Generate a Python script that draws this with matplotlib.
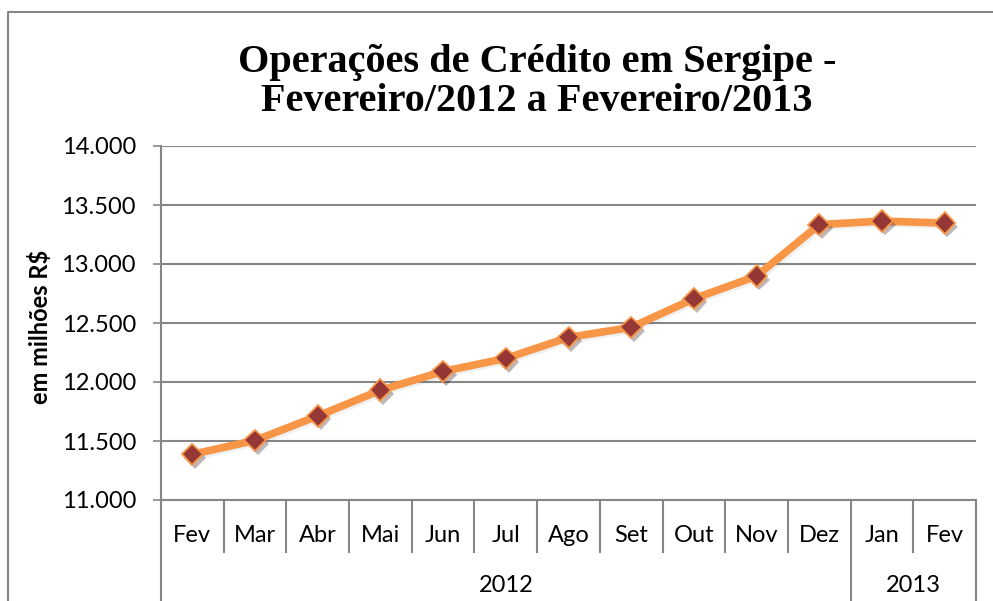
import numpy as np
import matplotlib
matplotlib.use("Agg")
import matplotlib.pyplot as plt
import matplotlib.patheffects as pe
from matplotlib.lines import Line2D
from matplotlib.ticker import FuncFormatter

# =========================
# Data
# =========================
months = ["Fev", "Mar", "Abr", "Mai", "Jun", "Jul", "Ago", "Set", "Out", "Nov", "Dez", "Jan", "Fev"]
years = ["2012", "2013"]
months_per_year = [11, 2]
credito = [11387, 11505, 11712, 11930, 12090, 12200, 12378, 12463, 12706, 12898, 13334, 13364, 13347]

y_ticks = [11000, 11500, 12000, 12500, 13000, 13500, 14000]

TITLE = "Operações de Crédito em Sergipe -\nFevereiro/2012 a Fevereiro/2013"
YLABEL = "em milhões R$"

# =========================
# Style
# =========================
LINE_COLOR = "#F79646"
MARKER_COLOR = "#953735"
GRID_COLOR = "#868686"
TEXT_FONT = ["Lato", "DejaVu Sans"]

W, H = 993, 601
fig = plt.figure(figsize=(W / 100, H / 100), dpi=100)

# plot area in pixels: x 161..976, y 146..500
left, right, top, bottom = 161, 976, 146, 500
ax = fig.add_axes([left / W, 1 - bottom / H, (right - left) / W, (bottom - top) / H])

x = np.arange(len(months)) + 0.5
ax.plot(x, credito, color=LINE_COLOR, lw=5.5, solid_capstyle="round", zorder=3,
        path_effects=[pe.SimpleLineShadow(offset=(1.5, -1.5), alpha=0.06), pe.Normal()])
ax.plot(x, credito, ls="none", marker="D", ms=11, mfc=MARKER_COLOR, mec=LINE_COLOR, mew=1.3,
        zorder=4, path_effects=[pe.SimplePatchShadow(offset=(2, -2.5), alpha=0.3), pe.Normal()])

ax.set_xlim(0, len(months))
ax.set_ylim(y_ticks[0], y_ticks[-1])
ax.set_yticks(y_ticks)
ax.yaxis.set_major_formatter(FuncFormatter(lambda v, p: f"{v:,.0f}".replace(",", ".")))
ax.set_xticks([])

ax.grid(axis="y", color=GRID_COLOR, lw=1.5)
ax.set_axisbelow(True)
for s in ["top", "right"]:
    ax.spines[s].set_visible(False)
ax.spines["left"].set_color(GRID_COLOR)
ax.spines["left"].set_linewidth(1.5)
ax.spines["bottom"].set_color(GRID_COLOR)
ax.spines["bottom"].set_linewidth(1.5)
ax.tick_params(axis="y", length=6, width=1.2, color=GRID_COLOR, pad=12,
               labelsize=17, labelcolor="black")
for lbl in ax.get_yticklabels():
    lbl.set_family(TEXT_FONT)

# =========================
# Two-level category axis
# =========================
ax_h = bottom - top
month_sep = -52 / ax_h
year_sep = -(H - bottom) / ax_h
trans = ax.get_xaxis_transform()

for i, m in enumerate(months):
    ax.text(i + 0.5, -35 / ax_h, m, transform=trans, ha="center", va="center",
            fontsize=17, family=TEXT_FONT)

year_edges = np.concatenate([[0], np.cumsum(months_per_year)])
for i in range(1, len(months)):
    if i in year_edges:
        continue
    ax.plot([i, i], [0, month_sep], transform=trans, color=GRID_COLOR, lw=1.5, clip_on=False)
for e in year_edges:
    ax.plot([e, e], [0, year_sep], transform=trans, color=GRID_COLOR, lw=1.5, clip_on=False)
for k, yr in enumerate(years):
    cx = (year_edges[k] + year_edges[k + 1]) / 2
    ax.text(cx, -85 / ax_h, yr, transform=trans, ha="center", va="center",
            fontsize=17, family=TEXT_FONT)

# =========================
# Titles and frame
# =========================
fig.text(537 / W, 1 - 82 / H, TITLE, ha="center", va="center", fontsize=29,
         fontweight="bold", family="Liberation Serif", linespacing=1.08)
fig.text(40 / W, 1 - 327 / H, YLABEL, rotation=90, ha="center", va="center",
         fontsize=17, fontweight="bold", family=TEXT_FONT)

fig.add_artist(Line2D([8 / W, 8 / W, 1.0], [0.0, 1 - 12 / H, 1 - 12 / H],
                      transform=fig.transFigure, color=GRID_COLOR, lw=1.5))

plt.savefig("out.png", dpi=100)
plt.close()
